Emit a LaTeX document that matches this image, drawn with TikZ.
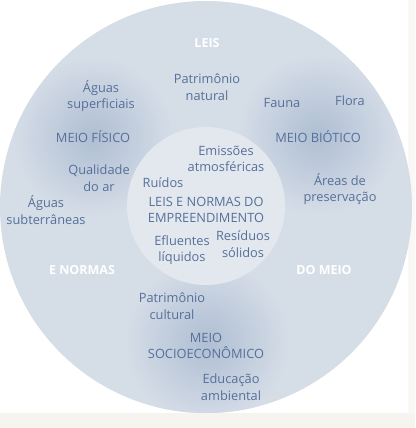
\documentclass[tikz,border=0pt]{standalone}
\usepackage{fontspec}
\setmainfont{Open Sans}
\definecolor{bigc}{HTML}{D5DDE7}
\definecolor{innerc}{HTML}{E3E8EE}
\definecolor{blobc}{HTML}{AFBED3}
\definecolor{txtc}{HTML}{56709A}
\definecolor{stripc}{HTML}{F5F4EF}
\tikzset{
  lbl/.style={text=txtc, font=\fontsize{12.8}{16.5}\selectfont, align=center, inner sep=0pt},
  wlbl/.style={text=white, font=\fontsize{12.5}{16}\selectfont\bfseries, align=center, inner sep=0pt},
}
\begin{document}
\begin{tikzpicture}[x=1pt,y=-1pt]
\useasboundingbox (0,0) rectangle (415,428);
\fill[white] (0,0) rectangle (415,428);
\fill[stripc] (0,413) rectangle (415,428);
\fill[stripc!60!white] (408,0) rectangle (415,413);
\node[circle, fill=bigc, minimum size=412pt, inner sep=0pt] (big) at (206,207) {};
\begin{scope}
\clip (206,207) circle (206);
\shade[inner color=blobc, outer color=bigc] (93,137) circle (80);
\shade[inner color=blobc, outer color=bigc] (318,135) circle (80);
\shade[inner color=blobc, outer color=bigc] (207,342) circle (82);
\end{scope}
\node[circle, fill=innerc, minimum size=158pt, inner sep=0pt] (inner) at (206,206) {};
\node[wlbl] (leis) at (207,43) {LEIS};
\node[wlbl] (enormas) at (82,270) {E NORMAS};
\node[wlbl] (domeio) at (324,270) {DO MEIO};
\node[lbl] (pnat) at (207,87) {Patrimônio\\natural};
\node[lbl] (asup) at (101,96) {Águas\\superficiais};
\node[lbl] (fauna) at (282,103) {Fauna};
\node[lbl] (flora) at (350,101) {Flora};
\node[lbl] (mfis) at (93,137) {MEIO FÍSICO};
\node[lbl] (mbio) at (318,137) {MEIO BIÓTICO};
\node[lbl] (emis) at (226,159) {Emissões\\atmosféricas};
\node[lbl] (qual) at (99,178) {Qualidade\\do ar};
\node[lbl] (ruid) at (163,183) {Ruídos};
\node[lbl] (asub) at (46,210) {Águas\\subterrâneas};
\node[lbl] (area) at (340,189) {Áreas de\\preservação};
\node[lbl] (lne) at (206,210) {LEIS E NORMAS DO\\EMPREENDIMENTO};
\node[lbl] (eflu) at (182,250) {Efluentes\\líquidos};
\node[lbl] (resi) at (243,244) {Resíduos\\sólidos};
\node[lbl] (pcul) at (172,306) {Patrimônio\\cultural};
\node[lbl] (msoc) at (206,346) {MEIO\\SOCIOECONÔMICO};
\node[lbl] (educ) at (231,387) {Educação\\ambiental};
\end{tikzpicture}
\end{document}
